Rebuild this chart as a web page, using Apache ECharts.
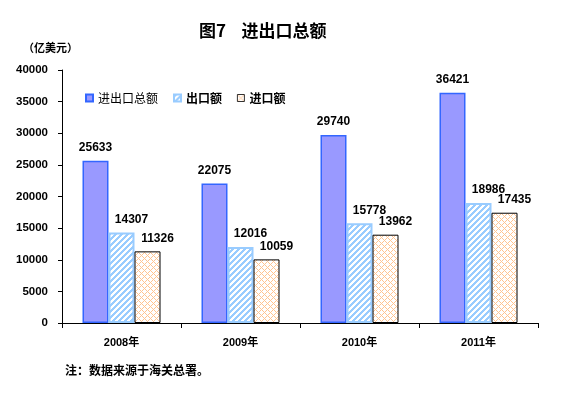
<!DOCTYPE html>
<html><head><meta charset="utf-8">
<script src="https://cdn.jsdelivr.net/npm/echarts@6/dist/echarts.min.js"></script>
<style>html,body{margin:0;padding:0;background:#fff}#c{width:572px;height:393px}</style>
</head><body><div id="c"></div>
<script>
const categories = ['2008年','2009年','2010年','2011年'];
const totalValues = [25633, 22075, 29740, 36421];
const exportValues = [14307, 12016, 15778, 18986];
const importValues = [11326, 10059, 13962, 17435];
const seriesNames = ['进出口总额','出口额','进口额'];
const yTicks = {min:0, max:40000, interval:5000};

function makePattern(size, test, color){
  const cv = document.createElement('canvas');
  cv.width = size; cv.height = size;
  const ctx = cv.getContext('2d');
  ctx.fillStyle = '#ffffff'; ctx.fillRect(0,0,size,size);
  ctx.fillStyle = color;
  for(let x=0;x<size;x++)for(let y=0;y<size;y++){ if(test(x,y)) ctx.fillRect(x,y,1,1); }
  return {image: cv, repeat: 'repeat'};
}
const stripe = makePattern(6, (x,y)=>((x+y)%6)<3, '#99ccff');
const cross = makePattern(6, (x,y)=>((x+y)%6)===0 || (((x-y)%6)+6)%6===0, '#ffc491');

const FF = '"Liberation Sans", Arial, "Noto Sans CJK SC", sans-serif';
const CJK = '"Noto Sans CJK SC", sans-serif';
const chart = echarts.init(document.getElementById('c'), null, {renderer:'canvas'});
const lbl = (off)=>({show:true, position:'top', distance:7, offset:off, color:'#000', fontFamily:FF, fontWeight:'bold', fontSize:12});
chart.setOption({
  animation:false,
  title:[
    {text:'图7    进出口总额', left:194, top:17, textStyle:{fontFamily:CJK, fontWeight:'bold', fontSize:17, color:'#000'}},
    {text:'（亿美元）', left:18, top:37, textStyle:{fontFamily:CJK, fontWeight:'bold', fontSize:11, color:'#000'}},
    {text:'注：数据来源于海关总署。', left:60, top:359, textStyle:{fontFamily:CJK, fontWeight:'bold', fontSize:12, color:'#000'}}
  ],
  legend:{
    left:80, top:87, itemWidth:7, itemHeight:7, itemGap:15, icon:'rect',
    textStyle:{fontFamily:CJK, fontSize:12, color:'#000'},
    data:[
      {name:seriesNames[0], textStyle:{fontWeight:'normal'}},
      {name:seriesNames[1], textStyle:{fontWeight:'bold'}},
      {name:seriesNames[2], textStyle:{fontWeight:'bold'}, itemStyle:{borderWidth:0.8}}
    ]
  },
  grid:{left:62, right:34, top:70, bottom:70, containLabel:false},
  xAxis:{
    type:'category', data:categories,
    axisLine:{lineStyle:{color:'#000', width:1}},
    axisTick:{show:true, length:5, inside:false, lineStyle:{color:'#000'}},
    axisLabel:{margin:14, color:'#000', fontFamily:FF, fontWeight:'bold', fontSize:11}
  },
  yAxis:{
    type:'value', min:yTicks.min, max:yTicks.max, interval:yTicks.interval,
    axisLine:{show:true, lineStyle:{color:'#000', width:1}},
    axisTick:{show:true, length:4, lineStyle:{color:'#000'}},
    splitLine:{show:false},
    axisLabel:{margin:14, color:'#000', fontFamily:FF, fontWeight:'bold', fontSize:11.5, formatter:(v)=>String(v)}
  },
  series:[
    {name:seriesNames[0], type:'bar', data:totalValues, barWidth:26, barGap:'0%', barCategoryGap:'33%',
     itemStyle:{color:'#9999ff', borderColor:'#3366ff', borderWidth:1.5}, label:lbl([0,0])},
    {name:seriesNames[1], type:'bar', data:exportValues, barWidth:26,
     itemStyle:{color:stripe, borderColor:'#99ccff', borderWidth:2}, label:lbl([10,0])},
    {name:seriesNames[2], type:'bar', data:importValues, barWidth:26,
     itemStyle:{color:cross, borderColor:'#000', borderWidth:1}, label:lbl([10,0])}
  ]
});
</script></body></html>
